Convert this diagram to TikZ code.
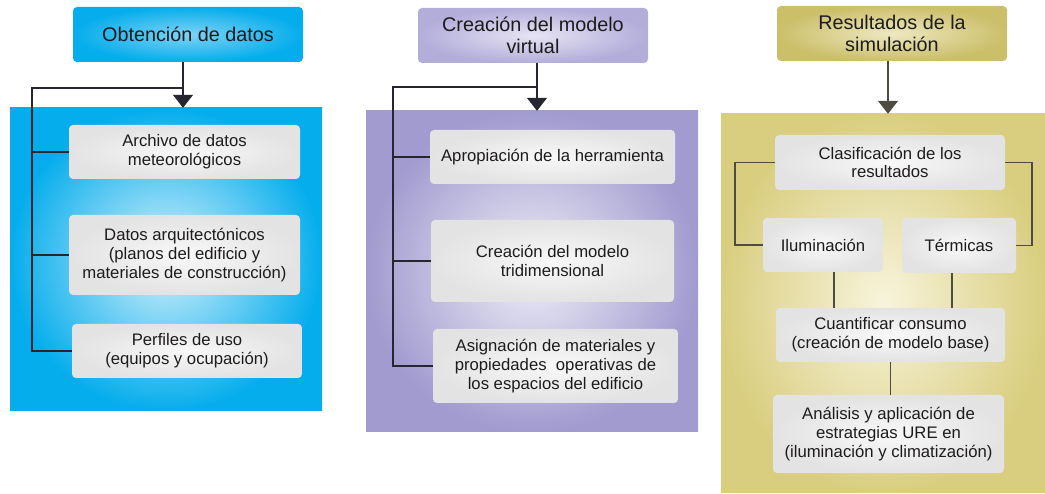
\documentclass[tikz,border=0pt]{standalone}
\usepackage{fontspec}
\setmainfont{Liberation Sans}
\usetikzlibrary{arrows.meta}
\definecolor{cyanE}{HTML}{05ADEC}
\definecolor{cyanC}{HTML}{D4F0FB}
\definecolor{cyanH}{HTML}{7FD3F4}
\definecolor{lavE}{HTML}{A19BCF}
\definecolor{lavC}{HTML}{EEEDF7}
\definecolor{lavHE}{HTML}{B3ADDA}
\definecolor{lavHC}{HTML}{E6E4F3}
\definecolor{oliE}{HTML}{D9CE80}
\definecolor{oliC}{HTML}{F8F4DC}
\definecolor{oliHE}{HTML}{CBBF6A}
\definecolor{oliHC}{HTML}{EEE8C2}
\definecolor{boxE}{HTML}{E3E3E3}
\definecolor{boxC}{HTML}{F8F8F8}
\definecolor{txt}{HTML}{1E1B1C}
\definecolor{lin}{HTML}{262633}
\definecolor{lin3}{HTML}{4E4B42}
\tikzset{
  hdr/.style={rectangle, rounded corners=4pt, inner sep=0pt, minimum width=230pt, minimum height=55pt, align=center, font=\fontsize{19.8}{22.5}\selectfont, text=txt},
  panel/.style={rectangle, inner sep=0pt},
  ibox/.style={rectangle, rounded corners=4pt, inner sep=0pt, align=center, font=\fontsize{16.7}{18.8}\selectfont, text=txt, inner color=boxC, outer color=boxE},
  conn/.style={draw=lin, line width=1.2pt},
  conn3/.style={draw=lin3, line width=1.2pt},
  arr/.style={-{Triangle[width=20pt,length=13pt]}}
}
\begin{document}
\begin{tikzpicture}[x=1pt,y=-1pt]
\useasboundingbox (0,0) rectangle (1045,494);
% ---------- column 1 ----------
\node[panel, minimum width=312pt, minimum height=303pt, inner color=cyanC, outer color=cyanE] (p1) at (166,259.5) {};
\node[hdr, inner color=cyanH, outer color=cyanE] (h1) at (188,34.5) {Obtención de datos};
\node[ibox, minimum width=231pt, minimum height=54pt] (b11) at (184.5,152) {Archivo de datos\\meteorológicos};
\node[ibox, minimum width=231pt, minimum height=80pt] (b12) at (184.5,255) {Datos arquitectónicos\\(planos del edificio y\\materiales de construcción)};
\node[ibox, minimum width=230pt, minimum height=54pt] (b13) at (187,351) {Perfiles de uso\\(equipos y ocupación)};
\coordinate (j1) at (183,88);
\coordinate (t1) at (32,88);
\draw[conn, arr] (j1 |- h1.south) -- (j1 |- p1.north);
\draw[conn] (j1) -- (t1) -- (t1 |- b13.west) -- (b13.west);
\draw[conn] (t1 |- b11.west) -- (b11.west);
\draw[conn] (t1 |- b12.west) -- (b12.west);
% ---------- column 2 ----------
\node[panel, minimum width=332pt, minimum height=321pt, inner color=lavC, outer color=lavE] (p2) at (532,271.5) {};
\node[hdr, inner color=lavHC, outer color=lavHE] (h2) at (533,35.5) {Creación del modelo\\virtual};
\node[ibox, minimum width=245pt, minimum height=54pt] (b21) at (552.5,157) {Apropiación de la herramienta};
\node[ibox, minimum width=243pt, minimum height=82pt] (b22) at (552.5,261) {Creación del modelo\\tridimensional};
\node[ibox, minimum width=245pt, minimum height=74pt] (b23) at (555.5,366) {Asignación de materiales y\\propiedades\ \ operativas de\\los espacios del edificio};
\coordinate (j2) at (537,87);
\coordinate (t2) at (393,87);
\draw[conn, arr] (j2 |- h2.south) -- (j2 |- p2.north);
\draw[conn] (j2) -- (t2) -- (t2 |- b23.west) -- (b23.west);
\draw[conn] (t2 |- b21.west) -- (b21.west);
\draw[conn] (t2 |- b22.west) -- (b22.west);
% ---------- column 3 ----------
\node[panel, minimum width=324pt, minimum height=378pt, inner color=oliC, outer color=oliE] (p3) at (883,303) {};
\node[hdr, inner color=oliHC, outer color=oliHE] (h3) at (892,33.5) {Resultados de la\\simulación};
\node[ibox, minimum width=230pt, minimum height=55pt] (b31) at (890,162.5) {Clasificación de los\\resultados};
\node[ibox, minimum width=120pt, minimum height=54pt] (b32) at (823,245) {Iluminación};
\node[ibox, minimum width=114pt, minimum height=55pt] (b33) at (959,245.5) {\raisebox{-4pt}{Térmicas}};
\node[ibox, minimum width=229pt, minimum height=54pt] (b34) at (890.5,335) {Cuantificar consumo\\(creación de modelo base)};
\node[ibox, minimum width=231pt, minimum height=78pt] (b35) at (888.5,434) {Análisis y aplicación de\\estrategias URE en\\(iluminación y climatización)};
\coordinate (j3) at (888,0);
\coordinate (L3) at (735,0);
\coordinate (R3) at (1032,0);
\draw[conn3, arr] (j3 |- h3.south) -- (j3 |- p3.north);
\draw[conn3] (b31.west) -| (L3 |- b32.west) -- (b32.west);
\draw[conn3] (b31.east) -| (R3 |- b33.east) -- (b33.east);
\draw[conn3] ([xshift=11pt]b32.south) -- ([xshift=11pt]b32.south |- b34.north);
\draw[conn3] ([xshift=-7pt]b33.south) -- ([xshift=-7pt]b33.south |- b34.north);
\draw[conn3] (b34.south) -- (b34.south |- b35.north);
\end{tikzpicture}
\end{document}
